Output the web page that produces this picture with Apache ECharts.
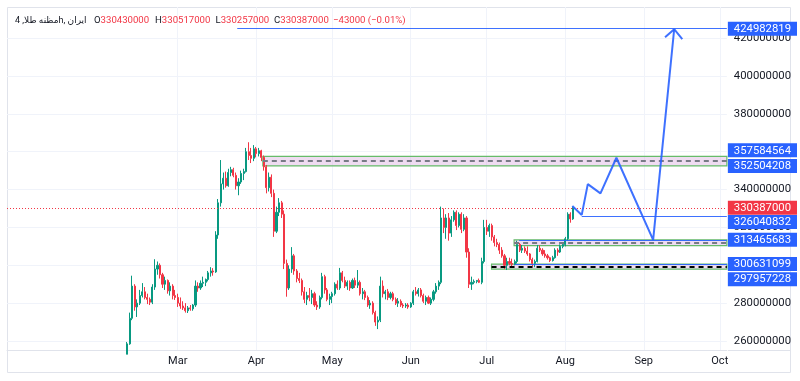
<!DOCTYPE html>
<html><head><meta charset="utf-8">
<script src="https://cdn.jsdelivr.net/npm/echarts@6/dist/echarts.min.js"></script>
<style>html,body{margin:0;padding:0;background:#fff}#c{width:800px;height:381px}</style>
</head><body><div id="c"></div>
<script>
// ---------- DATA (x = days since 1 March, prices in million rial) ----------
const monthTickDays = [0, 31, 61, 92, 122, 153, 184, 214];
const monthNames = ['Mar', 'Apr', 'May', 'Jun', 'Jul', 'Aug', 'Sep', 'Oct'];
const priceTicks = [260, 280, 300, 320, 340, 360, 380, 400, 420];
const firstCandleDay = -20;
const opens = [
  253, 258.5, 272, 289, 278, 280, 284, 286, 283, 282,
  280.5, 288.5, 298, 300, 295, 290, 292, 286.5, 289, 284,
  283, 280, 278.5, 277.5, 276, 277.5, 277, 279, 289, 288,
  290.5, 291, 292.5, 296, 297, 296.5, 316, 333, 343, 346,
  342, 349, 350.5, 347.5, 342, 344, 348.5, 349.5, 360, 358,
  356.5, 361.5, 359, 360.5, 357, 352, 341, 346.5, 338, 318,
  328, 333, 327, 301, 288, 298, 305, 297, 293, 292,
  286, 282, 284, 283, 285, 279, 278, 283, 294, 287,
  282, 283.5, 285, 290, 288, 296, 292, 289, 291, 288,
  292, 289.5, 291, 285, 286, 283, 279, 280, 275, 270,
  271, 289, 285, 286, 283, 285, 282, 280, 281, 279,
  278.5, 279, 278, 280, 286, 285, 287, 284, 281, 283,
  280, 282, 286, 289, 291, 325, 320, 325, 317, 324,
  328, 321, 327, 319, 325, 307, 290, 291, 291.5, 292,
  291, 302, 320, 318, 321, 315, 312, 311, 308, 305,
  300, 302, 301, 300.5, 302, 311, 308, 309, 307.5, 306,
  303, 301, 302, 309, 308, 306, 305, 304, 302.5, 304,
  308, 307, 310, 311, 314, 327, 324.5
];
const highs = [
  259.5, 275, 294.5, 290, 282, 287, 290.6, 288.5, 285, 283,
  290, 303.2, 302, 301, 296, 294, 292.5, 291, 290, 287,
  285, 283, 281, 280, 278.5, 279, 279.5, 292, 291, 292,
  294, 293, 297, 299, 298.5, 318, 335, 355.6, 349, 349.5,
  351, 352, 351.5, 349, 346, 350, 351, 362, 365, 362,
  363.5, 362.5, 362, 361, 358, 353, 349, 348, 340, 331,
  335.5, 334, 329, 303, 300, 309.6, 306, 298, 296, 293,
  288.5, 286, 288, 287, 286, 281, 284, 296, 295, 288,
  285, 286, 291, 292, 298.6, 297, 294, 292, 292, 293,
  293.5, 297.5, 292, 288, 287, 284, 281.6, 281, 276, 273,
  294, 292, 287, 287.5, 286, 286, 283, 282.7, 282, 280,
  280, 280, 280.5, 287, 288.5, 288, 288, 285, 284, 284,
  283, 287, 290.6, 292, 331, 330, 327, 327.6, 326, 329,
  329, 328, 328, 327, 326, 309, 294, 292.5, 292.2, 293,
  304, 324, 324, 322, 322, 316, 314, 312, 309.6, 306,
  304, 304, 303.5, 303, 313, 311.8, 310.7, 310, 310, 306.5,
  304, 303, 310.7, 310.5, 309, 308, 306, 304.5, 305, 309,
  309, 311, 312, 315, 328, 328, 331
];
const lows = [
  253, 258, 271, 276, 272.7, 279, 283, 282, 279.5, 279,
  279.5, 287, 295, 293, 288, 287, 285, 284, 282, 281.7,
  278, 277, 276.4, 275, 274.8, 276, 276, 278, 286, 287,
  288.5, 289, 291.5, 294, 294.5, 296, 314, 331, 340, 341,
  341.5, 347, 346.5, 340, 337, 343, 345, 349, 355.6, 354,
  355, 357, 357.5, 355, 350, 338, 339, 336, 315, 317,
  326, 325, 298, 283.4, 287, 296, 295, 291, 290.6, 284,
  280, 279, 281, 279.5, 278, 276.4, 277, 282, 285, 281,
  279, 280, 284, 287, 287, 291, 288, 287, 286.5, 287.5,
  288, 288, 284, 282, 281.6, 278, 277, 274, 268, 266.3,
  270, 283, 282, 281.6, 282, 281, 279, 278, 278, 277.4,
  277.5, 277, 277.5, 279, 284, 283.5, 283, 280, 279, 279.5,
  279, 281, 285, 287, 290, 317, 314, 313, 315, 323,
  318.6, 320, 317, 318, 304, 288, 287, 290, 290.5, 290.6,
  290, 301, 316, 315, 313, 310, 309.6, 306, 304, 298,
  297.5, 300, 299.5, 300, 301, 307, 306.5, 306.5, 305, 302,
  299.5, 299, 301.5, 307, 305, 304, 303, 301.7, 302, 303.5,
  305, 306.5, 309, 310, 313, 322.5, 324
];
const closes = [
  258.5, 272, 289, 278, 280, 284, 286, 283, 282, 280.5,
  288.5, 298, 300, 295, 290, 292, 286.5, 289, 284, 283,
  280, 278.5, 277.5, 276, 277.5, 277, 279, 289, 288, 290.5,
  291, 292.5, 296, 297, 296.5, 316, 333, 343, 346, 342,
  349, 350.5, 347.5, 342, 344, 348.5, 349.5, 360, 358, 356.5,
  361.5, 359, 360.5, 357, 352, 341, 346.5, 338, 318, 328,
  333, 327, 301, 288, 298, 305, 297, 293, 292, 286,
  282, 284, 283, 285, 279, 278, 283, 294, 287, 282,
  283.5, 285, 290, 288, 296, 292, 289, 291, 288, 292,
  289.5, 291, 285, 286, 283, 279, 280, 275, 270, 271,
  289, 285, 286, 283, 285, 282, 280, 281, 279, 278.5,
  279, 278, 280, 286, 285, 287, 284, 281, 283, 280,
  282, 286, 289, 291, 325, 320, 325, 317, 324, 328,
  321, 327, 319, 325, 307, 290, 291, 291.5, 292, 291,
  302, 320, 318, 321, 315, 312, 311, 308, 305, 300,
  302, 301, 300.5, 302, 311, 308, 309, 307.5, 306, 303,
  301, 302, 309, 308, 306, 305, 304, 302.5, 304, 308,
  307, 310, 311, 314, 327, 324.5, 330.4
];
const lastPrice = 330387000;
const rayStartDays = [23.5, 159.5, 134.8, 133.2];
const rayPrices = [424982819, 326040832, 313465683, 300631099];
const zoneStartDays = [33.6, 132.8, 123.9];
const zoneTops = [357584564, 313465683, 300631099];
const zoneBottoms = [352504208, 310400000, 297957228];
const zoneMids = [355044386, 311900000, 299294163];
const pathDays = [155.8, 159.5, 161.9, 166.9, 173.2, 187.7, 196.0];
const pathPrices = [331.3, 326.6, 342.9, 338.0, 356.8, 313.4, 424.7];
const arrowDays = [192.4, 196.0, 199.2];
const arrowPrices = [420.4, 424.7, 419.5];
const axisTagPrices = [424982819, 357584564, 352504208, 330387000, 326040832, 313465683, 300631099];
const axisTagPricesLow = [297957228];
const symbolTitle = 'مظنه طلا, 4h, ایران';
const legendKeys = ['O', 'H', 'L', 'C'];
const legendValues = ['330430000', '330517000', '330257000', '330387000'];
const legendChange = '\u221243000 (\u22120.01%)';

// ---------- STYLE / LAYOUT ----------
const M = 1e6;
const X_MIN = -67.4, X_MAX = 216.8;
const Y_MIN = 255.25 * M, Y_MAX = 436.44 * M;
const BLUE = '#2962ff', RED = '#f23645', UP = '#089981', TXT = '#131722';
const GRIDC = '#f0f3fa';
const FONT = 'Roboto, "DejaVu Sans", sans-serif';
// vertical nudges of stacked price tags (px), like the stacking of the original
const tagShift = {357584564: -6, 326040832: 6, 297957228: 10};
const zoneMidColors = ['#787b86', '#787b86', '#000000'];
const legendX = [94, 155, 215.5, 274];   // header item positions (px)
const legendChangeX = 333;
const HEAD_FS = 9.6;

const candleData = opens.map((o, i) => [firstCandleDay + i, o * M, closes[i] * M, lows[i] * M, highs[i] * M]);
const pathData = pathDays.map((d, i) => [d, pathPrices[i] * M]);
const arrowData = arrowDays.map((d, i) => [d, arrowPrices[i] * M]);

const rich = {
  b: {backgroundColor: BLUE, color: '#fff', fontSize: 11.3, fontFamily: FONT, padding: [2, 6, 1, 6], lineHeight: 11},
  r: {backgroundColor: RED, color: '#fff', fontSize: 11.3, fontFamily: FONT, padding: [2, 6, 1, 6], lineHeight: 11}
};
Object.values(tagShift).forEach(s => { const h = Math.abs(s) * 2; rich['g' + h] = {fontSize: 1, lineHeight: h, height: h}; });
function tagLabel(v) {
  const r = Math.round(v);
  const main = '{' + (r === lastPrice ? 'r' : 'b') + '|' + r + '}';
  const s = tagShift[r];
  if (!s) return main;
  const gap = '{g' + (Math.abs(s) * 2) + '| }';
  return s < 0 ? main + '\n' + gap : gap + '\n' + main;
}
function tagAxis(values) {
  return {
    type: 'value', position: 'right', min: Y_MIN, max: Y_MAX,
    axisLine: {show: false}, axisTick: {show: false}, splitLine: {show: false},
    axisLabel: {customValues: values, margin: 1, formatter: tagLabel, rich: rich,
      showMinLabel: true, showMaxLabel: true, hideOverlap: false}
  };
}

const headerGraphics = [
  {type: 'text', z: 10, silent: true, x: 15, y: 21, style: {text: symbolTitle, fill: TXT, fontSize: 9, fontFamily: FONT, verticalAlign: 'middle'}}
];
legendKeys.forEach((k, i) => {
  headerGraphics.push({type: 'text', z: 10, silent: true, x: legendX[i], y: 21, style: {
    text: '{k|' + k + '}{v|' + legendValues[i] + '}', verticalAlign: 'middle',
    rich: {k: {fill: TXT, fontSize: HEAD_FS, fontFamily: FONT}, v: {fill: RED, fontSize: HEAD_FS, fontFamily: FONT}}
  }});
});
headerGraphics.push({type: 'text', z: 10, silent: true, x: legendChangeX, y: 21, style: {text: legendChange, fill: RED, fontSize: HEAD_FS, fontFamily: FONT, verticalAlign: 'middle'}});

const chart = echarts.init(document.getElementById('c'), null, {renderer: 'canvas'});
chart.setOption({
  animation: false,
  backgroundColor: '#ffffff',
  grid: {left: 7, right: 72, top: 7, bottom: 31, containLabel: false},
  xAxis: {
    type: 'value', min: X_MIN, max: X_MAX,
    axisLine: {show: true, lineStyle: {color: '#e0e3eb'}},
    axisTick: {show: false, customValues: monthTickDays},
    axisLabel: {customValues: monthTickDays, margin: 6, color: TXT, fontSize: 11, fontFamily: FONT,
      formatter: v => monthNames[monthTickDays.indexOf(Math.round(v))] || ''},
    splitLine: {show: true, lineStyle: {color: GRIDC, width: 1}}
  },
  yAxis: [{
    type: 'value', position: 'right', min: Y_MIN, max: Y_MAX,
    axisLine: {show: false},
    axisTick: {show: false, customValues: priceTicks.map(p => p * M)},
    axisLabel: {customValues: priceTicks.map(p => p * M), margin: 7, color: TXT, fontSize: 11.3, fontFamily: FONT,
      showMinLabel: true, showMaxLabel: true, hideOverlap: false,
      formatter: v => String(Math.round(v))},
    splitLine: {show: true, lineStyle: {color: GRIDC, width: 1}}
  }, tagAxis(axisTagPrices), tagAxis(axisTagPricesLow)],
  series: [
    { // zones
      type: 'line', data: [], z: 1, silent: true,
      markArea: {
        silent: true,
        data: zoneStartDays.map((d, i) => [
          {coord: [d, zoneTops[i]], itemStyle: {color: 'rgba(206,147,216,0.32)', borderColor: '#66bb6a', borderWidth: 1.2}},
          {coord: [X_MAX, zoneBottoms[i]]}
        ])
      },
      markLine: {
        silent: true, symbol: 'none', label: {show: false},
        data: zoneStartDays.map((d, i) => [
          {coord: [d, zoneMids[i]], lineStyle: {color: zoneMidColors[i], width: 2, type: [5, 4]}},
          {coord: [X_MAX, zoneMids[i]]}
        ]).concat([[
          {coord: [X_MIN, lastPrice], lineStyle: {color: RED, width: 1, type: [1, 2]}},
          {coord: [X_MAX, lastPrice]}
        ]])
      }
    },
    {
      type: 'candlestick', data: candleData, z: 3, barWidth: 1.6,
      encode: {x: 0, y: [1, 2, 3, 4]},
      itemStyle: {color: UP, color0: RED, borderColor: UP, borderColor0: RED, borderWidth: 1}
    },
    { // horizontal rays
      type: 'line', data: [], z: 4, silent: true,
      markLine: {
        silent: true, symbol: 'none', label: {show: false},
        lineStyle: {color: BLUE, width: 1, type: 'solid', opacity: 0.9},
        data: rayStartDays.map((d, i) => [{coord: [d, rayPrices[i]]}, {coord: [X_MAX, rayPrices[i]]}])
      }
    },
    {type: 'line', data: pathData, z: 5, symbol: 'none', lineStyle: {color: BLUE, width: 2, opacity: 0.9}},
    {type: 'line', data: arrowData, z: 5, symbol: 'none', lineStyle: {color: BLUE, width: 2, opacity: 0.9}}
  ],
  graphic: [
    {type: 'rect', z: 0, silent: true, shape: {x: 7.5, y: 7.5, width: 783, height: 365}, style: {fill: 'none', stroke: '#e0e3eb', lineWidth: 1}},
    {type: 'line', z: 0, silent: true, shape: {x1: 728, y1: 350.5, x2: 791, y2: 350.5}, style: {stroke: '#e0e3eb', lineWidth: 1}}
  ].concat(headerGraphics)
});
</script></body></html>
